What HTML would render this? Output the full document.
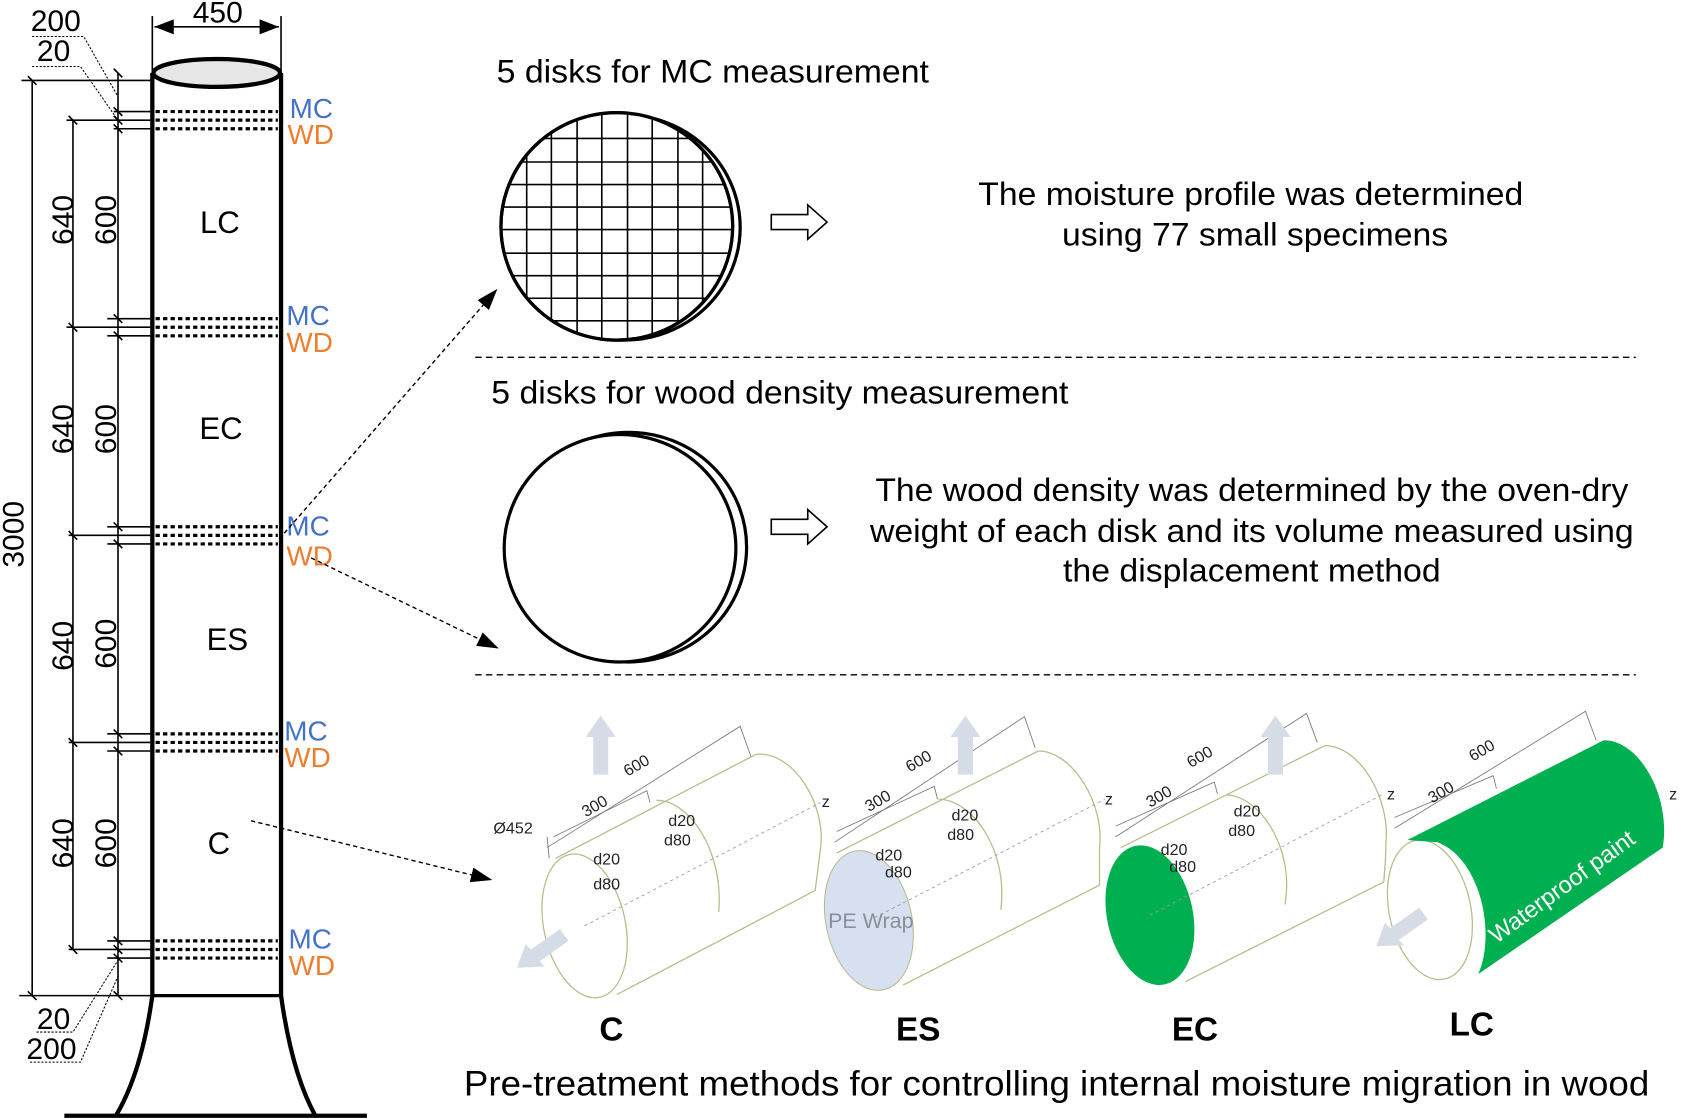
<!DOCTYPE html>
<html><head><meta charset="utf-8"><style>
html,body{margin:0;padding:0;background:#fff;}
svg{display:block;}
text{font-family:"Liberation Sans",Arial,sans-serif;}
</style></head><body>
<svg width="1682" height="1119" viewBox="0 0 1568 1043" preserveAspectRatio="none" xmlns="http://www.w3.org/2000/svg">
<defs>
<marker id="ab" markerWidth="20" markerHeight="14" refX="19" refY="7" orient="auto" markerUnits="userSpaceOnUse"><path d="M0,0 L20,7 L0,14 Z" fill="#000"/></marker>
<marker id="dimA" markerWidth="18" markerHeight="14" refX="18" refY="7" orient="auto-start-reverse" markerUnits="userSpaceOnUse"><path d="M0,0 L18,7 L0,14 Z" fill="#000"/></marker>
<clipPath id="disk"><ellipse cx="575" cy="211" rx="108" ry="106"/></clipPath>
</defs>

<g stroke="#000" fill="none">
<line x1="142" y1="68" x2="142" y2="928" stroke-width="4"/>
<line x1="262" y1="68" x2="262" y2="928" stroke-width="4"/>
<line x1="142" y1="928" x2="262" y2="928" stroke-width="3"/>
<path d="M142,928 Q132,1000 108,1040" stroke-width="4"/>
<path d="M262,928 Q272,1000 294,1040" stroke-width="4"/>
<line x1="60" y1="1040" x2="342" y2="1040" stroke-width="4"/>
</g>
<ellipse cx="202" cy="68" rx="59" ry="13" fill="#e6e6e6" stroke="#000" stroke-width="4"/>

<g stroke="#000" stroke-width="1.5">
<line x1="142" y1="15" x2="142" y2="68"/><line x1="262" y1="15" x2="262" y2="68"/>
<line x1="144" y1="25" x2="260" y2="25" marker-start="url(#dimA)" marker-end="url(#dimA)"/>
</g>
<text x="203" y="21" font-size="28" text-anchor="middle">450</text>

<g stroke="#000" stroke-width="3" stroke-dasharray="4,3">
<line x1="145" y1="104" x2="259" y2="104"/><line x1="145" y1="112" x2="259" y2="112"/><line x1="145" y1="120" x2="259" y2="120"/>
<line x1="145" y1="297" x2="259" y2="297"/><line x1="145" y1="305" x2="259" y2="305"/><line x1="145" y1="313" x2="259" y2="313"/>
<line x1="145" y1="491" x2="259" y2="491"/><line x1="145" y1="499" x2="259" y2="499"/><line x1="145" y1="507" x2="259" y2="507"/>
<line x1="145" y1="684" x2="259" y2="684"/><line x1="145" y1="692" x2="259" y2="692"/><line x1="145" y1="700" x2="259" y2="700"/>
<line x1="145" y1="877" x2="259" y2="877"/><line x1="145" y1="885" x2="259" y2="885"/><line x1="145" y1="893" x2="259" y2="893"/>
</g>
<g font-size="26">
<text x="270" y="110" fill="#4472c4">MC</text><text x="268" y="134" fill="#ed7d31">WD</text>
<text x="267" y="303" fill="#4472c4">MC</text><text x="267" y="328" fill="#ed7d31">WD</text>
<text x="267" y="499" fill="#4472c4">MC</text><text x="267" y="527" fill="#ed7d31">WD</text>
<text x="265" y="690" fill="#4472c4">MC</text><text x="265" y="715" fill="#ed7d31">WD</text>
<text x="269" y="884" fill="#4472c4">MC</text><text x="269" y="909" fill="#ed7d31">WD</text>
</g>
<g font-size="29" text-anchor="middle">
<text x="205" y="217">LC</text><text x="206" y="409">EC</text><text x="212" y="606">ES</text><text x="204" y="796">C</text>
</g>

<g stroke="#000" stroke-width="1.5" fill="none">
<line x1="20" y1="75" x2="142" y2="75"/>
<line x1="18" y1="928" x2="142" y2="928"/>
<line x1="30" y1="75" x2="30" y2="928"/>
<line x1="106" y1="112" x2="142" y2="112"/><line x1="106" y1="104" x2="142" y2="104"/><line x1="106" y1="120" x2="142" y2="120"/>
<line x1="62" y1="305" x2="142" y2="305"/><line x1="64" y1="499" x2="142" y2="499"/><line x1="64" y1="692" x2="142" y2="692"/><line x1="64" y1="885" x2="142" y2="885"/>
<line x1="62" y1="112" x2="106" y2="112"/>
<line x1="100" y1="297" x2="142" y2="297"/><line x1="100" y1="313" x2="142" y2="313"/>
<line x1="100" y1="491" x2="142" y2="491"/><line x1="100" y1="507" x2="142" y2="507"/>
<line x1="100" y1="684" x2="142" y2="684"/><line x1="100" y1="700" x2="142" y2="700"/>
<line x1="100" y1="877" x2="142" y2="877"/><line x1="100" y1="893" x2="142" y2="893"/>
<line x1="68" y1="112" x2="68" y2="885"/>
<line x1="110" y1="68" x2="110" y2="928"/>
</g>
<g stroke="#000" stroke-width="1.5">
<line x1="26" y1="71" x2="34" y2="79"/><line x1="26" y1="924" x2="34" y2="932"/>
<line x1="64" y1="108" x2="72" y2="116"/><line x1="64" y1="301" x2="72" y2="309"/><line x1="64" y1="495" x2="72" y2="503"/><line x1="64" y1="688" x2="72" y2="696"/><line x1="64" y1="881" x2="72" y2="889"/>
<line x1="106" y1="64" x2="114" y2="72"/><line x1="106" y1="100" x2="114" y2="108"/><line x1="106" y1="108" x2="114" y2="116"/><line x1="106" y1="116" x2="114" y2="124"/>
<line x1="106" y1="293" x2="114" y2="301"/><line x1="106" y1="309" x2="114" y2="317"/>
<line x1="106" y1="487" x2="114" y2="495"/><line x1="106" y1="503" x2="114" y2="511"/>
<line x1="106" y1="680" x2="114" y2="688"/><line x1="106" y1="696" x2="114" y2="704"/>
<line x1="106" y1="873" x2="114" y2="881"/><line x1="106" y1="881" x2="114" y2="889"/><line x1="106" y1="889" x2="114" y2="897"/><line x1="106" y1="924" x2="114" y2="932"/>
</g>
<g font-size="28" text-anchor="middle">
<text transform="translate(22,498) rotate(-90)">3000</text>
<text transform="translate(68,205) rotate(-90)">640</text><text transform="translate(108,205) rotate(-90)">600</text>
<text transform="translate(68,400) rotate(-90)">640</text><text transform="translate(108,400) rotate(-90)">600</text>
<text transform="translate(68,602) rotate(-90)">640</text><text transform="translate(108,600) rotate(-90)">600</text>
<text transform="translate(68,786) rotate(-90)">640</text><text transform="translate(108,786) rotate(-90)">600</text>
<text x="52" y="29">200</text><text x="50" y="57">20</text>
<text x="50" y="959">20</text><text x="48" y="987">200</text>
</g>
<g stroke="#000" stroke-width="1" stroke-dasharray="2,1.5" fill="none">
<polyline points="30,34 78,34 110,90"/><polyline points="30,62 75,62 110,112"/>
<polyline points="34,962 68,962 110,895"/><polyline points="28,990 75,990 110,910"/>
</g>

<g stroke="#000" stroke-width="1.3" stroke-dasharray="4,3" fill="none">
<line x1="265" y1="497" x2="463" y2="270" marker-end="url(#ab)"/>
<line x1="290" y1="520" x2="464" y2="604" marker-end="url(#ab)"/>
<line x1="234" y1="765" x2="458" y2="820" marker-end="url(#ab)"/>
</g>

<text x="463" y="77" font-size="30" textLength="403" lengthAdjust="spacingAndGlyphs">5 disks for MC measurement</text>
<ellipse cx="582" cy="212" rx="108" ry="105" fill="#fff" stroke="#000" stroke-width="3"/>
<ellipse cx="575" cy="211" rx="108" ry="106" fill="#fff" stroke="#000" stroke-width="3"/>
<g clip-path="url(#disk)" stroke="#000" stroke-width="1.5">
<line x1="491" y1="100" x2="491" y2="320"/><line x1="514" y1="100" x2="514" y2="320"/><line x1="538" y1="100" x2="538" y2="320"/><line x1="561" y1="100" x2="561" y2="320"/><line x1="585" y1="100" x2="585" y2="320"/><line x1="608" y1="100" x2="608" y2="320"/><line x1="632" y1="100" x2="632" y2="320"/><line x1="655" y1="100" x2="655" y2="320"/>
<line x1="460" y1="129" x2="690" y2="129"/><line x1="460" y1="151" x2="690" y2="151"/><line x1="460" y1="172" x2="690" y2="172"/><line x1="460" y1="193" x2="690" y2="193"/><line x1="460" y1="214" x2="690" y2="214"/><line x1="460" y1="236" x2="690" y2="236"/><line x1="460" y1="257" x2="690" y2="257"/><line x1="460" y1="278" x2="690" y2="278"/><line x1="460" y1="299" x2="690" y2="299"/>
</g>
<ellipse cx="575" cy="211" rx="108" ry="106" fill="none" stroke="#000" stroke-width="3"/>
<path d="M719,200 L753,200 L753,191 L771,207 L753,223 L753,214 L719,214 Z" fill="#fff" stroke="#000" stroke-width="1.5"/>
<g font-size="30" text-anchor="middle">
<text x="1166" y="191" textLength="508" lengthAdjust="spacingAndGlyphs">The moisture profile was determined</text>
<text x="1170" y="229" textLength="360" lengthAdjust="spacingAndGlyphs">using 77 small specimens</text>
</g>
<line x1="443" y1="333" x2="1525" y2="333" stroke="#000" stroke-width="1.3" stroke-dasharray="6,4"/>

<text x="458" y="376" font-size="30" textLength="538" lengthAdjust="spacingAndGlyphs">5 disks for wood density measurement</text>
<ellipse cx="586" cy="510" rx="110" ry="107" fill="#fff" stroke="#000" stroke-width="3"/>
<ellipse cx="578" cy="511" rx="108" ry="106" fill="#fff" stroke="#000" stroke-width="3"/>
<path d="M719,484 L753,484 L753,475 L771,491 L753,507 L753,498 L719,498 Z" fill="#fff" stroke="#000" stroke-width="1.5"/>
<g font-size="30" text-anchor="middle">
<text x="1167" y="467" textLength="702" lengthAdjust="spacingAndGlyphs">The wood density was determined by the oven-dry</text>
<text x="1167" y="505" textLength="712" lengthAdjust="spacingAndGlyphs">weight of each disk and its volume measured using</text>
<text x="1167" y="542" textLength="352" lengthAdjust="spacingAndGlyphs">the displacement method</text>
</g>
<line x1="443" y1="629" x2="1525" y2="629" stroke="#000" stroke-width="1.3" stroke-dasharray="6,4"/>

<g fill="none" stroke="#b8bc8c" stroke-width="1.2">
<ellipse cx="545" cy="863" rx="38" ry="68" transform="rotate(-12 545 863)" fill="#fff"/>
<path d="M518,800 L705,703"/><path d="M575,927 L760,830"/>
<path d="M705,703 C740,700 770,750 765,790 C762,815 760,828 760,830"/>
<path d="M612,746 C640,745 675,790 670,850"/>
<path d="M780,795 L968,700"/><path d="M842,918 L1025,825"/>
<path d="M968,700 C1000,700 1030,750 1025,790 C1025,810 1025,822 1025,825"/>
<path d="M875,745 C905,745 940,790 933,848"/>
<path d="M1045,790 L1235,695"/><path d="M1105,915 L1290,822"/>
<path d="M1235,695 C1268,695 1296,745 1292,785 C1292,805 1290,818 1290,822"/>
<path d="M1143,741 C1172,741 1207,787 1198,843"/>
<ellipse cx="1333" cy="848" rx="38" ry="66" transform="rotate(-12 1333 848)" fill="#fff"/>
</g>
<ellipse cx="810" cy="858" rx="40" ry="66" transform="rotate(-12 810 858)" fill="#d6e0f0" stroke="#b8bc8c"/>
<ellipse cx="1072" cy="853" rx="40" ry="66" transform="rotate(-12 1072 853)" fill="#00b050"/>
<path d="M1312,783 L1495,690 C1530,690 1558,745 1550,790 L1378,908 C1395,870 1380,800 1340,785 Z" fill="#00b050"/>
<text transform="translate(1395,880) rotate(-36)" font-family="Liberation Serif,serif" font-size="22" fill="#fff">Waterproof paint</text>
<text x="772" y="865" font-family="Liberation Serif,serif" font-size="20" fill="#8a8f99">PE Wrap</text>
<g stroke="#999" stroke-width="0.8" stroke-dasharray="3,3" fill="none">
<line x1="545" y1="863" x2="765" y2="748"/><line x1="810" y1="858" x2="1030" y2="745"/><line x1="1072" y1="853" x2="1290" y2="740"/>
</g>
<g stroke="#777" stroke-width="0.8" fill="none">
<path d="M510,790 L690,677 L700,705"/><path d="M510,780 L512,800"/>
<path d="M516,780 L603,737 L606,748"/>
<path d="M778,785 L955,668 L965,697"/><path d="M780,775 L871,733 L874,745"/>
<path d="M1040,780 L1218,665 L1228,692"/><path d="M1040,770 L1132,729 L1135,740"/>
<path d="M1300,772 L1478,663 L1488,690"/><path d="M1300,762 L1392,723 L1395,735"/>
</g>
<g fill="#d6dce6">
<path d="M560,667 L574,687 L567,687 L567,722 L553,722 L553,687 L546,687 Z"/>
<path d="M900,667 L914,687 L907,687 L907,722 L893,722 L893,687 L886,687 Z"/>
<path d="M1189,667 L1203,687 L1196,687 L1196,722 L1182,722 L1182,687 L1175,687 Z"/>
<path d="M482,902 L490,880 L495,885 L522,866 L530,877 L503,896 L508,901 Z"/>
<path d="M1283,882 L1291,860 L1296,865 L1323,846 L1331,857 L1304,876 L1309,881 Z"/>
</g>
<g font-size="15" fill="#222">
<text transform="translate(585,724) rotate(-30)">600</text><text transform="translate(546,762) rotate(-30)">300</text>
<text x="460" y="777">Ø452</text><text x="623" y="770">d20</text><text x="619" y="788">d80</text>
<text x="553" y="806">d20</text><text x="553" y="829">d80</text>
<text x="766" y="752">z</text>
<text transform="translate(848,720) rotate(-30)">600</text><text transform="translate(810,757) rotate(-30)">300</text>
<text x="887" y="765">d20</text><text x="883" y="783">d80</text>
<text x="816" y="802">d20</text><text x="825" y="818">d80</text><text x="1030" y="750">z</text>
<text transform="translate(1110,716) rotate(-30)">600</text><text transform="translate(1072,753) rotate(-30)">300</text>
<text x="1150" y="761">d20</text><text x="1145" y="779">d80</text>
<text x="1082" y="797">d20</text><text x="1090" y="813">d80</text><text x="1293" y="745">z</text>
<text transform="translate(1373,710) rotate(-30)">600</text><text transform="translate(1335,749) rotate(-30)">300</text>
<text x="1556" y="745">z</text>
</g>

<g font-size="31" font-weight="bold" text-anchor="middle">
<text x="570" y="970">C</text><text x="856" y="970">ES</text><text x="1114" y="970">EC</text><text x="1372" y="965">LC</text>
</g>
<text x="985" y="1021" font-size="33" text-anchor="middle" textLength="1105" lengthAdjust="spacingAndGlyphs">Pre-treatment methods for controlling internal moisture migration in wood</text>
</svg>
</body></html>
